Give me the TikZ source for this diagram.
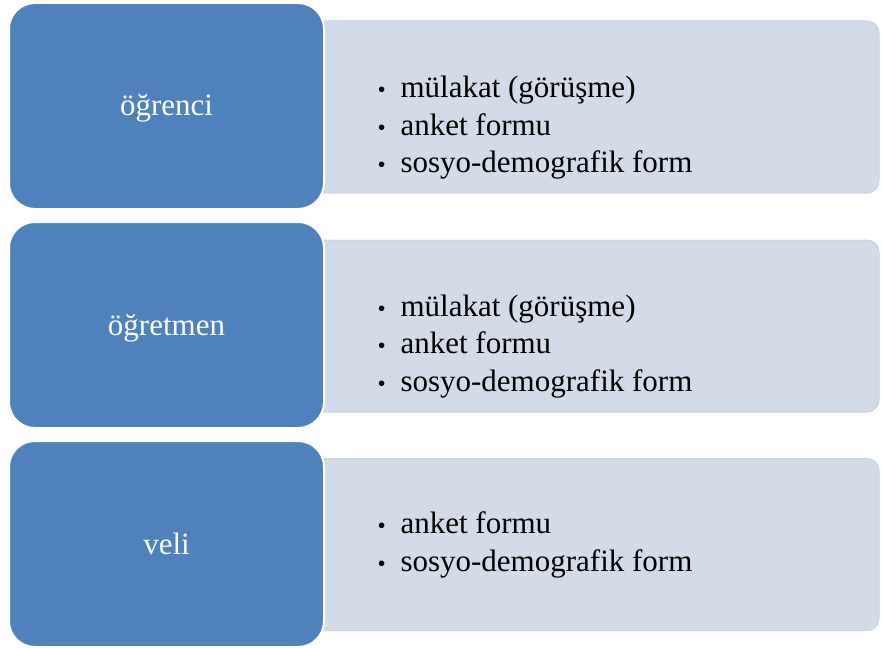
\documentclass[tikz,border=0pt]{standalone}
\usepackage{fontspec}
\setmainfont{Liberation Serif}
\usetikzlibrary{positioning}

\definecolor{kutumavi}{HTML}{4F81BD}
\definecolor{kutugri}{HTML}{D4DBE8}
\definecolor{kutucizgi}{HTML}{C9D2E4}

\tikzset{
  grup/.style={fill=kutumavi, draw=white, line width=2pt, rounded corners=26pt,
    minimum width=315pt, minimum height=206pt, text=white,
    font=\fontsize{31}{37}\selectfont},
  liste/.style={fill=kutugri, draw=kutucizgi, line width=1pt, rounded corners=12pt,
    minimum width=624pt, minimum height=172pt},
  madde/.style={align=left, anchor=west, font=\fontsize{31}{37.5}\selectfont},
}
\newcommand{\mad}{\makebox[23pt][l]{\scalebox{0.75}{\textbullet}}}
\newcommand{\etiket}[1]{\raisebox{-10pt}[0pt][0pt]{#1}}

\begin{document}
\begin{tikzpicture}[x=1pt, y=-1pt]
	\useasboundingbox (0,0) rectangle (882,647);
	% sag taraftaki listeler
	\node[liste] (liste1) at (567, 107) {};
	\node[liste] (liste2) at (567, 326) {};
	\node[liste] (liste3) at (567, 544.5) {};
	% sol taraftaki gruplar
	\node[grup] (ogrenci) at (166.5, 106) {\etiket{öğrenci}};
	\node[grup] (ogretmen) at (166.5, 325) {\etiket{öğretmen}};
	\node[grup] (veli) at (166.5, 544) {\etiket{veli}};
	\node[madde] (madde1) at (374, 128) {\mad mülakat (görüşme)\\ \mad anket formu\\ \mad sosyo-demografik form};
	\node[madde] (madde2) at (374, 346.5) {\mad mülakat (görüşme)\\ \mad anket formu\\ \mad sosyo-demografik form};
	\node[madde] (madde3) at (374, 545) {\mad anket formu\\ \mad sosyo-demografik form};
\end{tikzpicture}
\end{document}
